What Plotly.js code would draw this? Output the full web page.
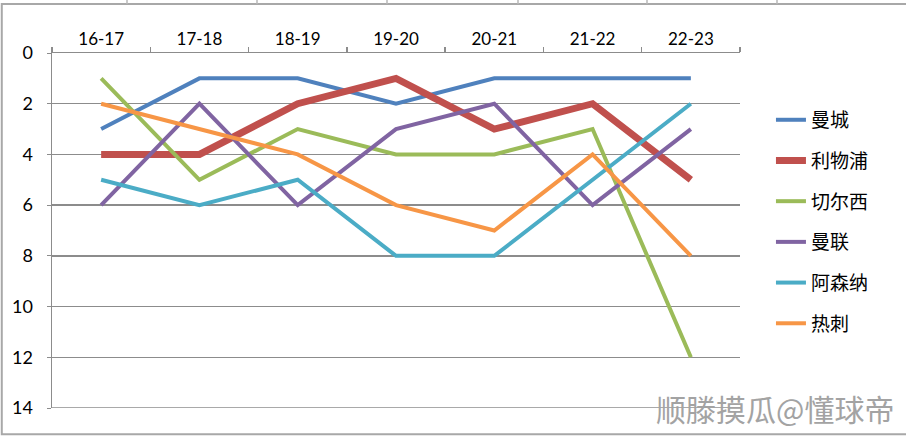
<!DOCTYPE html>
<html>
<head>
<meta charset="utf-8">
<script src="https://cdn.plot.ly/plotly-3.0.1.min.js"></script>
<style>
  body { margin: 0; background: #fff; }
  #chart { width: 906px; height: 436px; }
</style>
</head>
<body>
<div id="chart"></div>
<script>
var seasons = ['16-17', '17-18', '18-19', '19-20', '20-21', '21-22', '22-23'];

var teams = ['曼城', '利物浦', '切尔西', '曼联', '阿森纳', '热刺'];
var mancity = [3, 1, 1, 2, 1, 1, 1];
var liverpool = [4, 4, 2, 1, 3, 2, 5];
var chelsea = [1, 5, 3, 4, 4, 3, 12];
var manutd = [6, 2, 6, 3, 2, 6, 3];
var arsenal = [5, 6, 5, 8, 8, 5, 2];
var spurs = [2, 3, 4, 6, 7, 4, 8];

var colors = ['#4F81BD', '#C0504D', '#9BBB59', '#8064A2', '#4BACC6', '#F79646'];
var widths = [4, 7, 4, 4, 4, 4];
var values = [mancity, liverpool, chelsea, manutd, arsenal, spurs];

var data = [];
for (var i = 0; i < teams.length; i++) {
  data.push({
    x: seasons,
    y: values[i],
    name: teams[i],
    legendgroup: 'g' + i,
    type: 'scatter',
    mode: 'lines',
    line: {color: colors[i], width: widths[i]}
  });
}

var grey = '#8c8c8c';
var shapes = [
  // outer frame of the picture
  {type: 'rect', xref: 'paper', yref: 'paper', x0: -0.073, x1: 1.244, y0: -0.074, y1: 1.138,
   line: {color: '#a8a8a8', width: 2}, layer: 'below'},
  // bottom gridline at 14
  {type: 'line', xref: 'paper', yref: 'y', x0: 0, x1: 1, y0: 14, y1: 14,
   line: {color: grey, width: 1.5}, layer: 'below'}
];
var topMarks = [127, 257, 387, 518, 647, 777];
for (var k = 0; k < topMarks.length; k++) {
  var px = (topMarks[k] - 52) / 688;
  shapes.push({type: 'line', xref: 'paper', yref: 'paper', x0: px, x1: px, y0: 1.138, y1: 1.16,
    line: {color: '#b8b8b8', width: 1.5}});
}

var layout = {
  width: 906,
  height: 436,
  margin: {l: 52, r: 166, t: 53, b: 28},
  paper_bgcolor: '#fff',
  plot_bgcolor: '#fff',
  showlegend: true,
  legend: {
    x: 1.045, y: 0.865, xanchor: 'left', yanchor: 'top',
    font: {family: 'Noto Sans CJK SC', size: 19, color: '#000'},
    tracegroupgap: 13,
    bgcolor: 'rgba(0,0,0,0)'
  },
  xaxis: {
    type: 'category',
    side: 'top',
    showgrid: false,
    showline: true,
    linecolor: grey,
    linewidth: 1.5,
    ticks: 'outside',
    tickson: 'boundaries',
    ticklen: 5,
    tickcolor: grey,
    tickwidth: 1.5,
    tickfont: {family: 'Lato', size: 17, color: '#000'},
    range: [-0.5, 6.5],
    fixedrange: true,
    zeroline: false
  },
  yaxis: {
    range: [14, 0],
    dtick: 2,
    showgrid: true,
    gridcolor: grey,
    gridwidth: 1.5,
    showline: true,
    linecolor: grey,
    linewidth: 1.5,
    ticks: 'outside',
    ticklen: 4,
    tickcolor: grey,
    tickfont: {family: 'Lato', size: 18, color: '#000'},
    ticklabelstandoff: 10,
    zeroline: false
  },
  shapes: shapes,
  annotations: [{
    text: '顺滕摸瓜@懂球帝',
    xref: 'paper', yref: 'paper',
    x: (896 - 52) / 688, y: 0,
    xanchor: 'right', yanchor: 'middle',
    showarrow: false,
    font: {family: 'Noto Sans CJK SC', size: 30, color: '#a3a3a3'}
  }]
};

Plotly.newPlot('chart', data, layout, {displayModeBar: false, staticPlot: true});
</script>
</body>
</html>
